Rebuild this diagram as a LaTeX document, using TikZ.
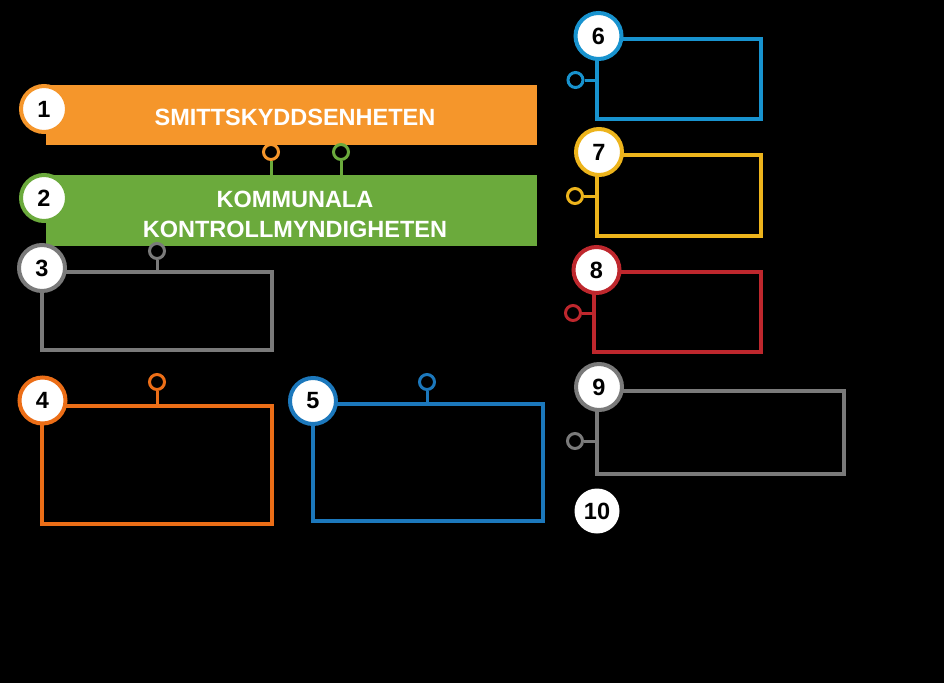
\documentclass[tikz,border=0pt]{standalone}
\usepackage{fontspec}
\setmainfont{Liberation Sans}
\definecolor{cBar}{HTML}{F5962B}
\definecolor{cGreen}{HTML}{6BAA3C}
\definecolor{cGrey}{HTML}{7A7A7A}
\definecolor{cOrange}{HTML}{EC6E17}
\definecolor{cBlueD}{HTML}{1C78BC}
\definecolor{cBlueL}{HTML}{1893CF}
\definecolor{cYellow}{HTML}{EDB41C}
\definecolor{cRed}{HTML}{BE272D}
\begin{document}
\begin{tikzpicture}[x=1pt,y=-1pt,
  num/.style={circle, draw=#1, line width=4pt, fill=white, minimum size=46pt,
    inner sep=0pt, font=\fontsize{23.5}{23.5}\selectfont\bfseries, text=black},
  bar/.style={rectangle, fill=#1, anchor=north west, inner sep=0pt, outer sep=0pt},
  frame/.style={rectangle, draw=#1, line width=3.5pt, anchor=north west, inner sep=0pt, outer sep=0pt},
  pinc/.style={circle, draw=#1, line width=3pt, fill=black, minimum size=15pt, inner sep=0pt},
  stem/.style={draw=#1, line width=3pt},
  bartext/.style={text=white, align=center, font=\fontsize{23.5}{30}\selectfont\bfseries}]
\fill[black] (0,0) rectangle (944,683);
\useasboundingbox (0,0) rectangle (944,683);
% bars
\node[bar=cBar, minimum width=491pt, minimum height=60pt] (bar1) at (46,85) {};
\node[bar=cGreen, minimum width=491pt, minimum height=71pt] (bar2) at (46,175) {};
\node[bartext] (t1) at (295,117) {SMITTSKYDDSENHETEN};
\node[bartext] (t2) at (295,214.5) {KOMMUNALA\\KONTROLLMYNDIGHETEN};
% frames
\node[frame=cGrey, minimum width=230pt, minimum height=78pt] (b3) at (42,272) {};
\node[frame=cOrange, minimum width=230pt, minimum height=118pt] (b4) at (42,406) {};
\node[frame=cBlueD, minimum width=230pt, minimum height=117pt] (b5) at (313,404) {};
\node[frame=cBlueL, minimum width=164pt, minimum height=80pt] (b6) at (597,39) {};
\node[frame=cYellow, minimum width=164pt, minimum height=81pt] (b7) at (597,155) {};
\node[frame=cRed, minimum width=167pt, minimum height=80pt] (b8) at (594,272) {};
\node[frame=cGrey, minimum width=247pt, minimum height=83pt] (b9) at (597,391) {};
% pins
\node[pinc=cBar] (p1) at (271,152) {};
\node[pinc=cGreen] (p2) at (341,152) {};
\node[pinc=cGrey] (p3) at (157,251) {};
\node[pinc=cOrange] (p4) at (157,382) {};
\node[pinc=cBlueD] (p5) at (427,382) {};
\node[pinc=cBlueL] (p6) at (575.5,80) {};
\node[pinc=cYellow] (p7) at (575,196) {};
\node[pinc=cRed] (p8) at (573,313) {};
\node[pinc=cGrey] (p9) at (575,441) {};
\draw[stem=cGreen] (p1.south) -- (p1.south |- bar2.north);
\draw[stem=cGreen] (p2.south) -- (p2.south |- bar2.north);
\draw[stem=cGrey] (p3.south) -- (p3.south |- b3.north);
\draw[stem=cOrange] (p4.south) -- (p4.south |- b4.north);
\draw[stem=cBlueD] (p5.south) -- (p5.south |- b5.north);
\draw[stem=cBlueL] (p6.east) -- (p6.east -| b6.west);
\draw[stem=cYellow] (p7.east) -- (p7.east -| b7.west);
\draw[stem=cRed] (p8.east) -- (p8.east -| b8.west);
\draw[stem=cGrey] (p9.east) -- (p9.east -| b9.west);
% number circles
\node[num=cBar] (c1) at (44,109) {1};
\node[num=cGreen] (c2) at (44,198) {2};
\node[num=cGrey] (c3) at (42,268) {3};
\node[num=cOrange] (c4) at (42.5,400.5) {4};
\node[num=cBlueD] (c5) at (313,401) {5};
\node[num=cBlueL] (c6) at (598.5,36) {6};
\node[num=cYellow] (c7) at (599,152) {7};
\node[num=cRed] (c8) at (596.5,270) {8};
\node[num=cGrey] (c9) at (599,387) {9};
\node[num=white, draw=none, minimum size=45pt] (c10) at (597,511) {10};
\end{tikzpicture}
\end{document}
